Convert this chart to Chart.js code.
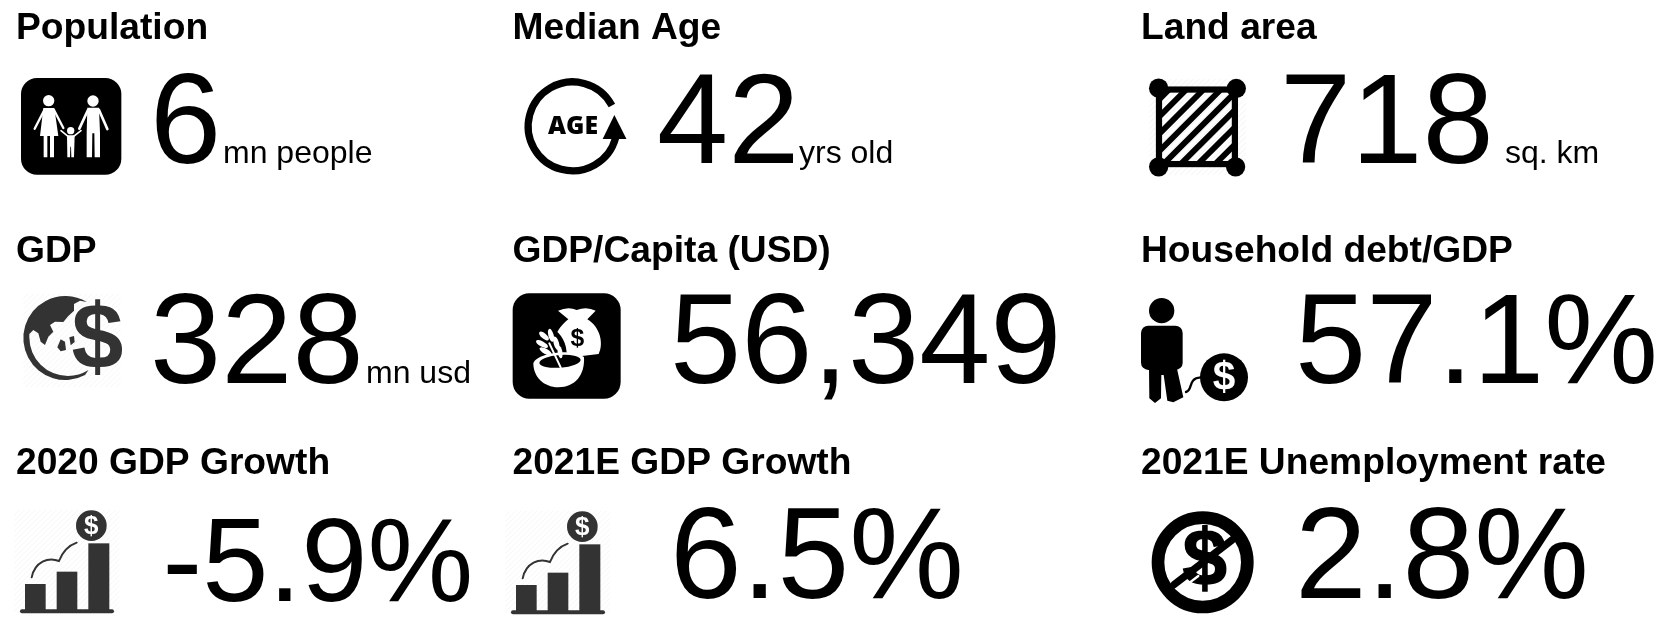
<!DOCTYPE html>
<html>
<head>
<meta charset="utf-8">
<script src="https://cdn.jsdelivr.net/npm/chart.js@4"></script>
<style>
  html, body { margin: 0; padding: 0; background: #fff; overflow: hidden; }
  canvas { display: block; }
</style>
</head>
<body>
<canvas id="myChart" width="1661" height="624"></canvas>
<script>
const titles = ['Population', 'Median Age', 'Land area', 'GDP', 'GDP/Capita (USD)', 'Household debt/GDP', '2020 GDP Growth', '2021E GDP Growth', '2021E Unemployment rate']
const values = ['6', '42', '718', '328', '56,349', '57.1%', '-5.9%', '6.5%', '2.8%']
const units = ['mn people', 'yrs old', 'sq. km', 'mn usd', '', '', '', '', '']

// layout, in page pixels
const titleX = [16, 512.5, 1141, 16, 512.5, 1141, 16, 512.5, 1141]
const titleBase = [39, 39, 39, 262, 262, 262, 474, 474, 474]
const numberX = [150, 657, 1280, 150, 670, 1295, 162.5, 670, 1295]
const numberBase = [163, 163, 163, 383, 383, 383, 601, 598, 598]
const numberSize = [128, 128, 128, 128, 128, 128, 119, 129, 129]
const unitX = [223, 799, 1505, 366, 0, 0, 0, 0, 0]

const FONT = '"Liberation Sans", Arial, sans-serif'
const DARK = '#333333'

// the icons are traced in the coordinates of a zoomed crop, o is the crop corner
function crop(ctx, ox, oy, fn, k = 3) {
    ctx.save()
    ctx.translate(ox, oy)
    ctx.scale(1 / k, 1 / k)
    fn()
    ctx.restore()
}

function poly(ctx, pts, color) {
    ctx.beginPath()
    pts.forEach((p, i) => i ? ctx.lineTo(p[0], p[1]) : ctx.moveTo(p[0], p[1]))
    ctx.closePath()
    ctx.fillStyle = color
    ctx.fill()
}

function circle(ctx, x, y, r, color) {
    ctx.beginPath()
    ctx.arc(x, y, r, 0, Math.PI * 2)
    ctx.fillStyle = color
    ctx.fill()
}

function roundBox(ctx, x, y, w, h, r, color) {
    ctx.beginPath()
    ctx.roundRect(x, y, w, h, r)
    ctx.fillStyle = color
    ctx.fill()
}

function seg(ctx, x1, y1, x2, y2, width, color) {
    ctx.beginPath()
    ctx.moveTo(x1, y1)
    ctx.lineTo(x2, y2)
    ctx.lineWidth = width
    ctx.lineCap = 'round'
    ctx.strokeStyle = color
    ctx.stroke()
}

function leaf(ctx, x, y, rx, ry, rot, color) {
    ctx.beginPath()
    ctx.ellipse(x, y, rx, ry, rot, 0, Math.PI * 2)
    ctx.fillStyle = color
    ctx.fill()
}

function label(ctx, text, x, y, font, color) {
    ctx.font = font
    ctx.fillStyle = color
    ctx.textAlign = 'center'
    ctx.textBaseline = 'middle'
    ctx.fillText(text, x, y)
}

function faintHatch(ctx, x, y, w, h) {
    ctx.save()
    ctx.beginPath()
    ctx.rect(x, y, w, h)
    ctx.clip()
    ctx.strokeStyle = '#f6f6f6'
    ctx.lineWidth = 3
    for (let i = -h; i < w; i += 16) {
        ctx.beginPath()
        ctx.moveTo(x + i, y + h)
        ctx.lineTo(x + i + h, y)
        ctx.stroke()
    }
    ctx.restore()
}

function drawFamily(ctx) {
    crop(ctx, 0, 0, () => {
        roundBox(ctx, 63, 234, 301, 290, 48, '#000')
        const w = '#fff'
        circle(ctx, 146, 302, 17, w)
        poly(ctx, [[130, 324], [163, 324], [175, 408], [162, 408], [162, 472], [150, 472], [150, 408], [142, 408], [142, 472], [131, 472], [131, 408], [120, 408]], w)
        seg(ctx, 133, 330, 104, 386, 7, w)
        seg(ctx, 162, 330, 190, 384, 7, w)
        circle(ctx, 279, 303, 17, w)
        poly(ctx, [[262, 323], [297, 323], [300, 400], [300, 472], [284, 472], [283, 400], [277, 400], [276, 472], [260, 472], [260, 400]], w)
        seg(ctx, 264, 330, 238, 386, 8, w)
        seg(ctx, 297, 330, 322, 387, 8, w)
        circle(ctx, 212, 392, 11, w)
        poly(ctx, [[201, 406], [224, 406], [222, 472], [214, 472], [213, 440], [211, 440], [210, 472], [202, 472]], w)
        seg(ctx, 204, 409, 183, 392, 5, w)
        seg(ctx, 221, 409, 243, 392, 5, w)
    })
}

function drawAge(ctx) {
    crop(ctx, 503, -4, () => {
        ctx.beginPath()
        ctx.arc(202, 378, 129, 15 * Math.PI / 180, 332 * Math.PI / 180)
        ctx.lineWidth = 21
        ctx.strokeStyle = '#000'
        ctx.lineCap = 'butt'
        ctx.stroke()
        poly(ctx, [[323, 345], [358, 415], [289, 415]], '#000')
        label(ctx, 'AGE', 203, 381, '800 72px "Open Sans"', '#000')
    }, 2.9)
}

function drawLand(ctx) {
    crop(ctx, 1120, -5, () => {
        faintHatch(ctx, 85, 243, 280, 280)
        ctx.save()
        ctx.beginPath()
        ctx.rect(113, 273, 220, 220)
        ctx.clip()
        ctx.strokeStyle = '#000'
        ctx.lineWidth = 17
        for (let i = -190; i < 240; i += 50) {
            ctx.beginPath()
            ctx.moveTo(113 + i, 493)
            ctx.lineTo(113 + i + 220, 273)
            ctx.stroke()
        }
        ctx.restore()
        ctx.lineWidth = 18
        ctx.strokeStyle = '#000'
        ctx.strokeRect(113, 274, 220, 216)
        circle(ctx, 112, 270, 28, '#000')
        circle(ctx, 337, 271, 28, '#000')
        circle(ctx, 112, 498, 28, '#000')
        circle(ctx, 335, 498, 28, '#000')
    }, 2.898)
}

function drawGlobe(ctx) {
    crop(ctx, 0, 210, () => {
        faintHatch(ctx, 70, 250, 292, 282)
        ctx.beginPath()
        ctx.arc(196, 384, 126, 62 * Math.PI / 180, -59 * Math.PI / 180)
        ctx.lineTo(240, 272)
        ctx.lineTo(222, 282)
        ctx.lineTo(222, 302)
        ctx.lineTo(205, 318)
        ctx.lineTo(190, 336)
        ctx.lineTo(165, 335)
        ctx.lineTo(150, 345)
        ctx.lineTo(160, 365)
        ctx.lineTo(145, 380)
        ctx.lineTo(135, 405)
        ctx.lineTo(122, 395)
        ctx.lineTo(115, 370)
        ctx.lineTo(100, 360)
        ctx.lineTo(88, 372)
        ctx.arc(204, 382, 116, Math.PI, 58 * Math.PI / 180, true)
        ctx.closePath()
        ctx.fillStyle = DARK
        ctx.fill()
        poly(ctx, [[182, 388], [195, 395], [198, 420], [182, 424], [172, 412]], DARK)
        poly(ctx, [[208, 382], [222, 378], [224, 396], [212, 406]], DARK)
        ctx.font = 'bold 280px ' + FONT
        ctx.textAlign = 'center'
        ctx.textBaseline = 'middle'
        ctx.lineWidth = 10
        ctx.strokeStyle = '#fff'
        ctx.strokeText('$', 292, 398)
        label(ctx, '$', 292, 398, 'bold 280px ' + FONT, DARK)
    })
}

function drawBag(ctx) {
    crop(ctx, 500, 280, () => {
        roundBox(ctx, 38, 40, 324, 316, 50, '#000')
        const w = '#fff'
        // money bag
        ctx.beginPath()
        ctx.moveTo(174, 92)
        ctx.quadraticCurveTo(205, 78, 230, 90)
        ctx.quadraticCurveTo(260, 78, 287, 92)
        ctx.lineTo(262, 118)
        ctx.bezierCurveTo(300, 140, 312, 190, 296, 222)
        ctx.lineTo(215, 232)
        ctx.lineTo(165, 180)
        ctx.bezierCurveTo(170, 150, 185, 135, 205, 118)
        ctx.closePath()
        ctx.fillStyle = w
        ctx.fill()
        label(ctx, '$', 232, 178, 'bold 74px ' + FONT, '#000')
        // black halo behind the wheat head
        leaf(ctx, 152, 198, 42, 62, -0.5, '#000')
        // bowl
        ctx.beginPath()
        ctx.moveTo(100, 250)
        ctx.bezierCurveTo(100, 290, 130, 322, 175, 322)
        ctx.bezierCurveTo(225, 322, 255, 285, 252, 232)
        ctx.bezierCurveTo(230, 205, 110, 215, 100, 250)
        ctx.closePath()
        ctx.fillStyle = w
        ctx.fill()
        leaf(ctx, 180, 244, 62, 19, -0.08, '#000')
        // wheat
        seg(ctx, 148, 190, 182, 262, 6, w)
        leaf(ctx, 132, 168, 18, 8, 0.7, w)
        leaf(ctx, 126, 192, 20, 8, 0.5, w)
        leaf(ctx, 137, 214, 20, 8, 0.5, w)
        leaf(ctx, 153, 166, 20, 8, 1.3, w)
        leaf(ctx, 169, 190, 21, 8, 1.3, w)
        leaf(ctx, 180, 216, 19, 7, 1.4, w)
    })
}

function drawDebt(ctx) {
    crop(ctx, 1130, 280, () => {
        circle(ctx, 95, 92, 38, '#000')
        roundBox(ctx, 33, 137, 125, 133, 22, '#000')
        poly(ctx, [[57, 262], [140, 262], [160, 352], [130, 367], [112, 362], [101, 285], [94, 285], [93, 355], [75, 369], [58, 355]], '#000')
        ctx.beginPath()
        ctx.moveTo(168, 336)
        ctx.bezierCurveTo(190, 330, 172, 295, 212, 292)
        ctx.lineWidth = 7
        ctx.strokeStyle = '#000'
        ctx.lineCap = 'round'
        ctx.stroke()
        circle(ctx, 282, 292, 72, '#000')
        label(ctx, '$', 282, 295, 'bold 122px ' + FONT, '#fff')
    })
}

function drawGrowth(ctx, ox, oy) {
    crop(ctx, ox, oy, () => {
        faintHatch(ctx, 42, 60, 316, 310)
        ctx.fillStyle = DARK
        ctx.fillRect(75, 282, 62, 78)
        ctx.fillRect(170, 245, 62, 115)
        ctx.fillRect(265, 160, 63, 200)
        roundBox(ctx, 60, 358, 282, 12, 6, DARK)
        circle(ctx, 274, 107, 46, DARK)
        label(ctx, '$', 274, 109, 'bold 78px ' + FONT, '#fff')
        ctx.beginPath()
        ctx.moveTo(95, 262)
        ctx.bezierCurveTo(105, 215, 145, 200, 177, 213)
        ctx.bezierCurveTo(190, 180, 210, 165, 230, 158)
        ctx.lineWidth = 6
        ctx.lineCap = 'round'
        ctx.strokeStyle = DARK
        ctx.stroke()
    })
}

function drawNoDollar(ctx) {
    crop(ctx, 1130, 490, () => {
        ctx.beginPath()
        ctx.arc(218, 217, 134, 0, Math.PI * 2)
        ctx.lineWidth = 38
        ctx.strokeStyle = '#000'
        ctx.stroke()
        ctx.font = 'bold 240px ' + FONT
        ctx.textAlign = 'center'
        ctx.textBaseline = 'middle'
        ctx.lineWidth = 4
        ctx.strokeStyle = '#000'
        ctx.strokeText('$', 224, 220)
        label(ctx, '$', 224, 220, 'bold 240px ' + FONT, '#000')
        seg(ctx, 132, 284, 306, 150, 22, '#000')
        seg(ctx, 152, 298, 205, 258, 7, '#fff')
    })
}

const infographic = {
    id: 'infographic',
    afterDatasetsDraw(chart) {
        const ctx = chart.ctx
        const x = chart.scales.x
        const y = chart.scales.y
        ctx.save()
        ctx.textAlign = 'left'
        ctx.textBaseline = 'alphabetic'
        ctx.fillStyle = '#000'
        titles.forEach((t, i) => {
            ctx.font = 'bold 37.2px ' + FONT
            ctx.fillText(t, x.getPixelForValue(titleX[i]), y.getPixelForValue(titleBase[i]))
            ctx.font = numberSize[i] + 'px ' + FONT
            ctx.fillText(values[i], x.getPixelForValue(numberX[i]), y.getPixelForValue(numberBase[i]))
            if (units[i]) {
                ctx.font = '32px ' + FONT
                ctx.fillText(units[i], x.getPixelForValue(unitX[i]), y.getPixelForValue(numberBase[i]))
            }
        })
        ctx.restore()
        ctx.save()
        drawFamily(ctx)
        drawAge(ctx)
        drawLand(ctx)
        drawGlobe(ctx)
        drawBag(ctx)
        drawDebt(ctx)
        drawGrowth(ctx, 0, 490)
        drawGrowth(ctx, 491, 491)
        drawNoDollar(ctx)
        ctx.restore()
    }
}

const config = {
    type: 'scatter',
    data: {
        datasets: [{
            label: 'Key figures',
            data: values.map((v, i) => ({ x: numberX[i], y: numberBase[i] })),
            pointRadius: 0
        }]
    },
    options: {
        responsive: false,
        animation: false,
        layout: { padding: 0 },
        plugins: { legend: { display: false }, tooltip: { enabled: false } },
        scales: {
            x: { type: 'linear', min: 0, max: 1661, display: false },
            y: { type: 'linear', min: 0, max: 624, reverse: true, display: false }
        }
    },
    plugins: [infographic]
}

new Chart(document.getElementById('myChart'), config)
</script>
</body>
</html>
